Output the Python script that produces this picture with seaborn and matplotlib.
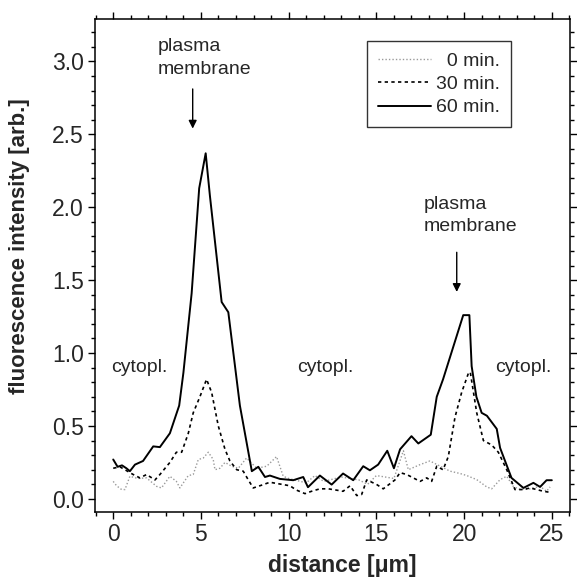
import numpy as np
import pandas as pd
import seaborn as sns
import matplotlib
matplotlib.use("Agg")
import matplotlib.pyplot as plt
from matplotlib.ticker import MultipleLocator

# ---- data ----
x60 = [0, 0.25, 0.5, 0.75, 0.95, 1.24, 1.7, 2.28, 2.66, 3.23, 3.76, 4.0, 4.47, 4.9, 5.27,
       5.51, 6.18, 6.56, 7.22, 7.9, 8.27, 8.65, 8.93, 9.5, 10.26, 10.83, 11.1, 11.78, 12.45,
       13.1, 13.68, 14.25, 14.63, 15.1, 15.62, 16.0, 16.35, 17.0, 17.39, 18.1, 18.44, 18.8,
       19.95, 20.3, 20.43, 20.7, 21.0, 21.3, 21.86, 22.05, 22.7, 23.38, 23.95, 24.33, 24.7, 25.0]
y60 = [0.27, 0.22, 0.23, 0.21, 0.19, 0.235, 0.26, 0.36, 0.355, 0.45, 0.64, 0.865, 1.41, 2.13, 2.37,
       2.08, 1.35, 1.28, 0.64, 0.19, 0.22, 0.15, 0.16, 0.137, 0.128, 0.15, 0.08, 0.16, 0.098,
       0.174, 0.128, 0.224, 0.196, 0.235, 0.33, 0.21, 0.34, 0.43, 0.38, 0.44, 0.70, 0.82,
       1.26, 1.26, 0.91, 0.70, 0.59, 0.57, 0.48, 0.35, 0.144, 0.075, 0.11, 0.082, 0.128, 0.128]

x30 = [0, 0.38, 1.14, 1.52, 1.9, 2.38, 2.66, 3.23, 3.6, 3.9, 4.28, 4.56, 4.94, 5.32, 5.61,
       5.99, 6.37, 6.65, 7.04, 7.41, 7.7, 7.98, 8.36, 8.93, 9.69, 10.07, 10.45, 10.93, 11.3,
       11.78, 12.26, 12.73, 13.1, 13.5, 13.88, 14.16, 14.45, 15.0, 15.39, 16.06, 16.35, 16.73,
       17.1, 17.49, 17.87, 18.15, 18.44, 18.8, 19.1, 19.48, 19.86, 20.24, 20.35, 20.72, 21.1,
       21.57, 21.95, 22.43, 22.9, 23.38, 23.76, 24.14, 24.52, 24.9]
y30 = [0.21, 0.22, 0.167, 0.144, 0.167, 0.13, 0.167, 0.25, 0.32, 0.32, 0.45, 0.59, 0.70, 0.82, 0.73,
       0.50, 0.34, 0.26, 0.20, 0.19, 0.13, 0.075, 0.09, 0.114, 0.098, 0.09, 0.06, 0.036, 0.052,
       0.069, 0.069, 0.06, 0.052, 0.09, 0.023, 0.03, 0.13, 0.10, 0.069, 0.13, 0.18, 0.167,
       0.144, 0.12, 0.144, 0.12, 0.224, 0.20, 0.29, 0.56, 0.73, 0.86, 0.87, 0.59, 0.40,
       0.37, 0.32, 0.20, 0.064, 0.064, 0.075, 0.064, 0.052, 0.045]

x0 = [0, 0.19, 0.48, 0.67, 0.95, 1.4, 1.9, 2.47, 2.75, 3.23, 3.6, 3.8, 4.28, 4.56, 4.85, 5.13,
      5.42, 5.7, 5.8, 6.08, 6.37, 6.75, 7.13, 7.6, 8.18, 8.75, 9.31, 9.69, 10.0, 11.0, 11.5,
      12.0, 13.0, 14.0, 14.5, 15.0, 16.0, 16.54, 16.82, 17.49, 18.05, 19.2, 19.77, 20.15, 20.72,
      21.29, 21.57, 22.05, 22.43, 22.8, 23.19, 23.76, 24.33, 24.7, 24.9]
y0 = [0.12, 0.09, 0.064, 0.064, 0.155, 0.14, 0.144, 0.086, 0.075, 0.155, 0.12, 0.075, 0.16, 0.167,
      0.27, 0.28, 0.32, 0.27, 0.20, 0.21, 0.25, 0.224, 0.21, 0.28, 0.21, 0.224, 0.29, 0.155, 0.14,
      0.11, 0.16, 0.12, 0.15, 0.13, 0.10, 0.16, 0.14, 0.33, 0.20, 0.235, 0.26, 0.19, 0.174, 0.16,
      0.132, 0.082, 0.069, 0.132, 0.155, 0.086, 0.064, 0.069, 0.086, 0.052, 0.082]

labels = ["\u20070 min.", "30 min.", "60 min."]
xlabel = "distance [\u03bcm]"
ylabel = "fluorescence intensity [arb.]"

# ---- plotting ----
sns.set_style("ticks")
plt.rcParams["font.family"] = ["Liberation Sans", "DejaVu Sans"]

fig = plt.figure(figsize=(5.77, 5.79), dpi=100)
ax = fig.add_axes([0.1646, 0.1157, 0.8234, 0.8513])

sns.lineplot(x=x0, y=y0, ax=ax, color="#9a9a9a", linewidth=1.0, linestyle=(0, (1, 1.5)),
             estimator=None, sort=False, label=labels[0])
sns.lineplot(x=x30, y=y30, ax=ax, color="black", linewidth=1.2, linestyle=(0, (2, 2)),
             estimator=None, sort=False, label=labels[1])
sns.lineplot(x=x60, y=y60, ax=ax, color="black", linewidth=1.4, linestyle="-",
             estimator=None, sort=False, label=labels[2])

ax.set_xlim(-1.04, 26.04)
ax.set_ylim(-0.09, 3.29)
ax.xaxis.set_major_locator(MultipleLocator(5))
ax.xaxis.set_minor_locator(MultipleLocator(1))
ax.yaxis.set_major_locator(MultipleLocator(0.5))
ax.yaxis.set_minor_locator(MultipleLocator(0.1))
ax.yaxis.set_major_formatter(matplotlib.ticker.FormatStrFormatter("%.1f"))

for s in ax.spines.values():
    s.set_visible(True)
    s.set_linewidth(1.1)
    s.set_color("black")
ax.tick_params(which="both", direction="out", top=True, right=True, color="black", width=1.0)
ax.tick_params(which="major", length=5, labelsize=16.5, pad=3)
ax.tick_params(which="minor", length=3)

ax.set_xlabel(xlabel, fontsize=16.5, fontweight="bold", labelpad=0)
ax.set_ylabel(ylabel, fontsize=16, fontweight="bold")
ax.xaxis.set_label_coords(0.52, -0.085)
ax.yaxis.set_label_coords(-0.137, 0.54)

leg = ax.legend(loc="upper right", bbox_to_anchor=(0.876, 0.955), frameon=True, fancybox=False,
                edgecolor="black", fontsize=14, handlelength=2.7, handletextpad=0.3,
                borderpad=0.55, labelspacing=0.3, borderaxespad=0)
leg.get_frame().set_linewidth(1.0)

# annotations
tkw = dict(fontsize=14, ha="left", va="top", linespacing=1.45)
ax.text(2.56, 3.16, "plasma\nmembrane", **tkw)
ax.annotate("", xy=(4.53, 2.52), xytext=(4.53, 2.83),
            arrowprops=dict(arrowstyle="-|>", color="black", lw=1.0, mutation_scale=12))
ax.text(17.68, 2.08, "plasma\nmembrane", **tkw)
ax.annotate("", xy=(19.58, 1.40), xytext=(19.58, 1.71),
            arrowprops=dict(arrowstyle="-|>", color="black", lw=1.0, mutation_scale=12))
for cx in [1.5, 12.1, 23.35]:
    ax.text(cx, 0.90, "cytopl.", fontsize=14, ha="center", va="center")

fig.savefig("out.png", dpi=100)
